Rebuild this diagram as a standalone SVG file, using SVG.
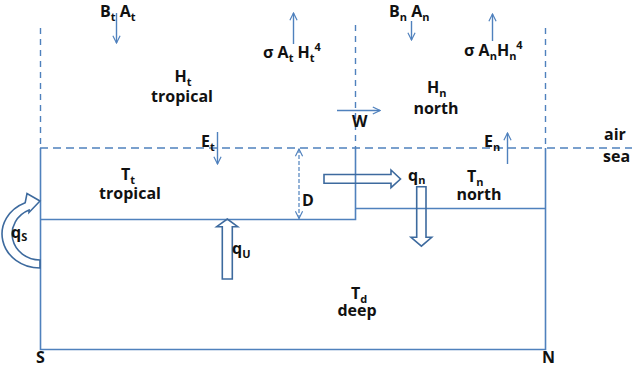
<svg xmlns="http://www.w3.org/2000/svg" width="634" height="371" viewBox="0 0 634 371">
<style>
.t{font-family:"Open Sans","Liberation Sans",sans-serif;font-weight:bold;font-size:16px;fill:#111}
.s{font-size:11px}
.ln{stroke:#4F81BD;stroke-width:1.6;fill:none}
.ds{stroke:#4F81BD;stroke-width:1.4;fill:none;stroke-dasharray:8 5}
.ar{stroke:#4F81BD;stroke-width:1.4;fill:none;marker-end:url(#arr)}
.blk{stroke:#3D6A9E;stroke-width:1.6;fill:none;stroke-linejoin:miter}
</style>
<defs>
<marker id="arr" viewBox="0 0 10 10" refX="9" refY="5" markerWidth="9" markerHeight="9" markerUnits="userSpaceOnUse" orient="auto-start-reverse">
<path d="M1,1 L9,5 L1,9" fill="none" stroke="#4F81BD" stroke-width="1.3"/>
</marker>
</defs>
<rect width="634" height="371" fill="#fff"/>

<g id="boundaries">
<line class="ds" x1="40.5" y1="28" x2="40.5" y2="148" style="stroke-dasharray:6 5"/>
<line class="ds" x1="355.5" y1="25" x2="355.5" y2="148" style="stroke-dasharray:6 5"/>
<line class="ds" x1="545.5" y1="28" x2="545.5" y2="148" style="stroke-dasharray:6 5"/>
<line class="ds" x1="40" y1="148" x2="632" y2="148"/>
<path class="ln" d="M40.5,148 V349.5 H545.5 V148"/>
<path class="ln" d="M40.5,219.5 H355.5 V148"/>
<line class="ln" x1="355.5" y1="208.5" x2="545.5" y2="208.5"/>
</g>

<g id="atm-tropical">
<text class="t" x="183" y="82" text-anchor="middle">H<tspan class="s" dy="4">t</tspan></text>
<text class="t" x="182" y="102" text-anchor="middle">tropical</text>
</g>
<g id="atm-north">
<text class="t" x="427" y="93">H<tspan class="s" dy="4">n</tspan></text>
<text class="t" x="436" y="114" text-anchor="middle">north</text>
</g>
<g id="ocean-tropical">
<text class="t" x="121" y="180">T<tspan class="s" dy="4">t</tspan></text>
<text class="t" x="130" y="199" text-anchor="middle">tropical</text>
</g>
<g id="ocean-north">
<text class="t" x="467" y="182">T<tspan class="s" dy="4">n</tspan></text>
<text class="t" x="479" y="200" text-anchor="middle">north</text>
</g>
<g id="ocean-deep">
<text class="t" x="351" y="299">T<tspan class="s" dy="4">d</tspan></text>
<text class="t" x="357" y="316" text-anchor="middle">deep</text>
</g>
<g id="labels">
<text class="t" x="604" y="140">air</text>
<text class="t" x="603" y="162">sea</text>
<text class="t" x="36" y="363">S</text>
<text class="t" x="542" y="363">N</text>
</g>

<g id="connectors">
<line class="ar" x1="116.5" y1="13" x2="116.5" y2="43"/>
<line class="ar" x1="293.5" y1="44" x2="293.5" y2="13"/>
<line class="ar" x1="411.5" y1="21" x2="411.5" y2="40"/>
<line class="ar" x1="492.5" y1="41" x2="492.5" y2="14"/>
<line class="ar" x1="337" y1="110.5" x2="380" y2="110.5"/>
<line class="ar" x1="217.5" y1="132" x2="217.5" y2="164"/>
<line class="ar" x1="507.5" y1="164" x2="507.5" y2="133"/>
<line class="ar" x1="299" y1="149" x2="299" y2="218.5" style="stroke-dasharray:4 2;marker-start:url(#arr);stroke-width:1.2"/>
<path class="blk" d="M324,174.5 H391 V170 L400.5,179 L391,187.7 V183.3 H324 Z"/>
<path class="blk" d="M416.7,186.7 H426 V237.3 H431.7 L421.4,246.2 L411,237.3 H416.7 Z"/>
<path class="blk" d="M222.3,279 V226.7 H216.7 L227.3,219 L237.7,226.7 H232.3 V279 Z"/>
<path class="blk" d="M40,268 A38 34 0 0 1 25.2,202.7 L27,193.5 L40,201 L29,212.5 L29.1,210.1 A28 26 0 0 0 40,260 Z"/>
<text class="t" x="100" y="17">B<tspan class="s" dy="4">t</tspan><tspan dy="-4"> A</tspan><tspan class="s" dy="4">t</tspan></text>
<text class="t" x="263" y="58">σ A<tspan class="s" dy="4">t</tspan><tspan dy="-4"> H</tspan><tspan class="s" dy="4">t</tspan><tspan class="s" dy="-11">4</tspan></text>
<text class="t" x="389" y="17">B<tspan class="s" dy="4">n</tspan><tspan dy="-4"> A</tspan><tspan class="s" dy="4">n</tspan></text>
<text class="t" x="464" y="56">σ A<tspan class="s" dy="4">n</tspan><tspan dy="-4">H</tspan><tspan class="s" dy="4">n</tspan><tspan class="s" dy="-11">4</tspan></text>
<text class="t" x="352" y="127">W</text>
<text class="t" x="201" y="147">E<tspan class="s" dy="4">t</tspan></text>
<text class="t" x="484" y="147">E<tspan class="s" dy="4">n</tspan></text>
<text class="t" x="302" y="206">D</text>
<text class="t" x="408" y="181">q<tspan class="s" dy="3">n</tspan></text>
<text class="t" x="11" y="238">q<tspan class="s" dy="3">S</tspan></text>
<text class="t" x="232" y="254">q<tspan class="s" dy="4">U</tspan></text>
</g>
</svg>
